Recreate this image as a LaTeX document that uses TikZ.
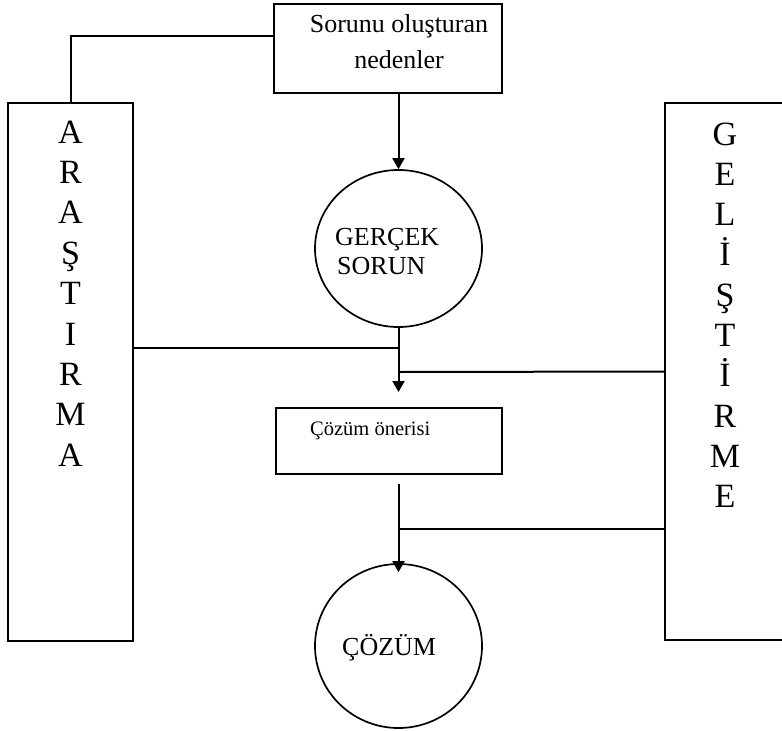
\documentclass[tikz,border=0pt]{standalone}
\usepackage{fontspec}
\setmainfont{Liberation Serif}
\usetikzlibrary{arrows.meta,shapes.geometric}
\begin{document}
\begin{tikzpicture}[x=1pt,y=-1pt,
  frame/.style={draw,line width=2pt,inner sep=0pt},
  disc/.style={draw,ellipse,line width=1.7pt,inner sep=0pt},
  link/.style={line width=2pt},
  flow/.style={link,-{Triangle[width=12pt,length=11pt]}},
  txt/.style={inner sep=0pt,font=\fontsize{26}{30}\selectfont},
  bigletter/.style={font=\fontsize{34}{34}\selectfont,anchor=base,inner sep=0pt}]
\useasboundingbox (0,0) rectangle (782,731);
\clip (0,0) rectangle (782,731);

% boxes and circles
\node[frame,minimum width=228pt,minimum height=89pt] (neden) at (388,48.5) {};
\node[frame,minimum width=125pt,minimum height=538pt] (arastirma) at (70.5,372) {};
\node[frame,minimum width=150pt,minimum height=537pt] (gelistirme) at (740,371.5) {};
\node[disc,minimum width=167pt,minimum height=157pt] (sorun) at (398.5,248.5) {};
\node[frame,minimum width=226pt,minimum height=66pt] (oneri) at (389,441) {};
\node[disc,minimum width=167pt,minimum height=164pt] (cozum) at (398.5,646) {};

% texts
\node[txt,anchor=base] (t1) at (399,32) {Sorunu oluşturan};
\node[txt,anchor=base] (t2) at (399,68) {nedenler};
\node[txt,anchor=base west] (t3) at (335,245) {GERÇEK};
\node[txt,anchor=base west] (t4) at (337,274) {SORUN};
\node[txt,anchor=base west,font=\fontsize{20.5}{24}\selectfont] (t5) at (310,435) {Çözüm önerisi};
\node[txt,anchor=base west] (t6) at (342,655) {ÇÖZÜM};

\foreach \c [count=\i from 0] in {A,R,A,Ş,T,I,R,M,A}
  \node[bigletter] (ar\i) at (70.5,{143+40.4*\i}) {\c};
\foreach \c [count=\i from 0] in {G,E,L,İ,Ş,T,İ,R,M,E}
  \node[bigletter] (ge\i) at (725,{145+40.3*\i}) {\c};

% connectors
\coordinate (jA) at (398.5,348);
\coordinate (jB) at (398.5,372);
\coordinate (jC) at (398.5,529);
\draw[link] ([yshift=12.5pt]neden.west) -| (arastirma.north);
\draw[flow] (neden.south -| sorun.north) -- (sorun.north);
\draw[flow] (sorun.south) -- ([yshift=15pt]oneri.north -| sorun.south);
\draw[link] (jA -| arastirma.east) -- (jA);
\draw[link] (gelistirme.west) -- (jB);
\draw[flow,shorten <=9pt,shorten >=-9pt] (oneri.south -| cozum.north) -- (cozum.north);
\draw[link] (jC -| gelistirme.west) -- (jC);
\end{tikzpicture}
\end{document}
